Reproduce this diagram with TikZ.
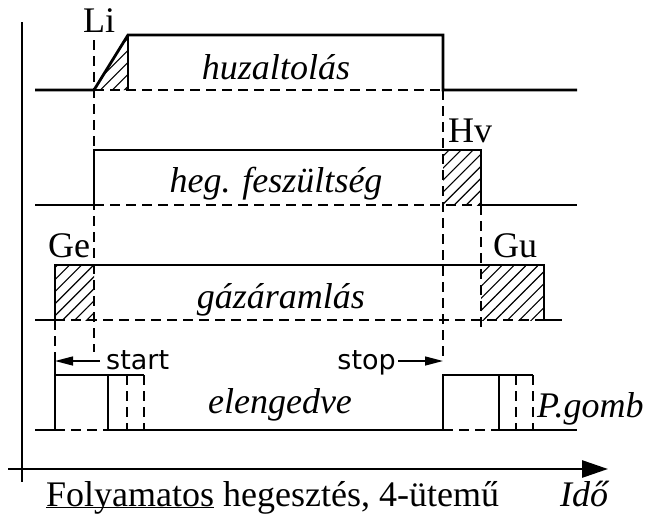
\documentclass[tikz,border=0pt]{standalone}
\usepackage{fontspec}
\setmainfont{Liberation Serif}
\newfontfamily\cadfont{DejaVu Sans}
\usetikzlibrary{arrows.meta,patterns.meta,positioning}

\begin{document}
\begin{tikzpicture}[x=1pt,y=-1pt,
    sig/.style={line width=2.8pt,line join=miter},
    guide/.style={line width=1.6pt,dash pattern=on 10pt off 6pt},
    fine/.style={line width=1.4pt},
    hatch/.style={pattern={Lines[angle=45,distance=8.5pt,line width=1.1pt]}},
    lbl/.style={font=\fontsize{36}{40}\selectfont\itshape,inner sep=0pt,anchor=base},
    tag/.style={font=\fontsize{36}{40}\selectfont,inner sep=0pt,anchor=base west},
    cue/.style={font=\cadfont\fontsize{27}{30}\selectfont,inner sep=0pt}]

      \useasboundingbox (0,0) rectangle (667,515);

      % hatched transition zones
      \fill[hatch] (94,90) -- (128,35) -- (128,90) -- cycle;
      \fill[hatch] (443,150) rectangle (481,205);
      \fill[hatch] (55,265) rectangle (94,320);
      \fill[hatch] (481,265) rectangle (544,320);

      % axes
      \draw[sig] (22,22) -- (22,482);
      \draw[sig,-{Triangle[length=26pt,width=17pt]}] (8,469) -- (608,469);

      \coordinate (ge) at (55,361);
      \coordinate (hv) at (443,361);

      \draw[guide] (94,40) -- (94,352);
      \draw[guide] (55,320) -- (ge);
      \draw[guide] (443,90) -- (hv);
      \draw[guide] (481,205) -- (481,328);
      \draw[guide] (94,90) -- (443,90);
      \draw[guide] (94,205) -- (481,205);
      \draw[guide] (55,320) -- (544,320);
      \draw[guide] (55,430) -- (108,430);
      \draw[guide] (443,430) -- (499,430);
      \foreach \x in {127,144,516,533}
        \draw[guide] (\x,375) -- (\x,430);

      \draw[sig] (35,90) -- (94,90) -- (128,35) -- (443,35) -- (443,90) -- (577,90);
      \draw[sig] (35,205) -- (94,205) -- (94,150) -- (481,150) -- (481,205) -- (577,205);
      \draw[sig] (35,320) -- (55,320) -- (55,265) -- (544,265) -- (544,320) -- (562,320);
      \draw[sig] (35,430) -- (55,430) -- (55,375) -- (108,375) -- (108,430) -- (443,430)
        -- (443,375) -- (499,375) -- (499,430) -- (577,430);
      \draw[fine] (128,35) -- (128,90);
      \draw[fine] (ge) -- (55,375);
      \draw[fine] (108,375) -- (144,375);
      \draw[fine] (499,375) -- (533,375);

      \node[tag] (li) at (83,32) {Li};
      \node[tag] (hvlbl) at (448,142) {Hv};
      \node[tag] (gelbl) at (48,257) {Ge};
      \node[tag] (gulbl) at (493,257) {Gu};

      \node[lbl] (wire) at (276,79) {huzaltolás};
      \node[lbl] (volt) at (276,192) {heg. feszültség};
      \node[lbl] (gas) at (281,308) {gázáramlás};
      \node[lbl] (rel) at (280,413) {elengedve};
      \node[lbl,anchor=base west] (btn) at (537,417) {P.gomb};

      \node[cue,anchor=base west] (start) at (106,369) {start};
      \node[cue,anchor=base east] (stop) at (396,369) {stop};
      \draw[fine,-{Triangle[length=18pt,width=9pt]}] (start.west |- ge) ++(-6,0) -- (ge);
      \draw[fine,-{Triangle[length=18pt,width=9pt]}] (stop.east |- hv) ++(2,0) -- (hv);

      \node[tag] (title) at (46,506) {\underline{\smash{Folyamatos}} hegesztés, 4-ütemű};
      \node[lbl,anchor=base west] (time) at (560,506) {Idő};
    \end{tikzpicture}
\end{document}
